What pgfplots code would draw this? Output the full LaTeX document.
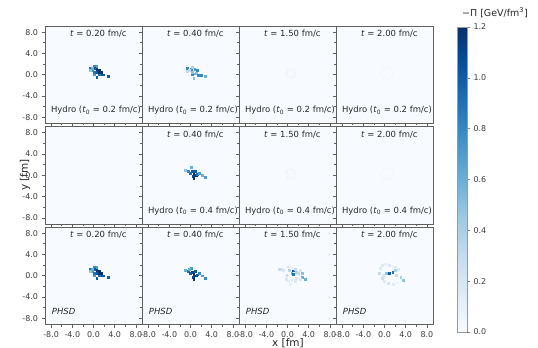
\documentclass[border=0pt]{standalone}
\usepackage{fontspec}
\setmainfont{DejaVu Sans}
\usepackage{pgfplots}
\usepackage{pgfplotstable}
\pgfplotsset{compat=1.18}

\definecolor{bg}{RGB}{247,251,255}
\definecolor{framec}{RGB}{95,95,95}
\definecolor{ticktext}{RGB}{60,60,60}

% cells: x [fm], y [fm], -Pi [GeV/fm^3]
\pgfplotstableread{
x y v
-0.6 1.2 0.9
-0.2 0.8 0.7
-0.6 0.8 0.5
0.2 1.6 0.8
0.2 1.2 1.0
0.6 1.2 1.1
0.6 0.8 1.2
1.0 0.8 1.2
1.0 0.4 1.2
1.4 0.4 1.2
1.4 0.0 1.1
1.8 0.0 1.0
0.6 0.4 1.0
0.2 0.4 0.9
0.2 0.0 0.7
0.6 -0.4 1.0
1.0 0.0 0.9
2.8 -0.2 1.0
-0.2 1.2 0.6
0.6 1.6 0.7
}\initA

\pgfplotstableread{
x y v
-0.6 1.2 0.8
-0.6 0.6 0.3
0.2 1.0 0.8
0.4 1.4 0.4
0.8 1.0 0.7
1.2 0.8 0.8
1.0 0.3 0.5
0.3 0.0 0.8
0.6 -0.6 0.5
1.5 -0.1 0.8
2.0 -0.1 0.8
2.8 -0.3 0.6
-0.2 0.8 0.3
0.8 0.2 0.6
0.4 0.4 0.5
}\hydroAb

\pgfplotstableread{
x y v
-1.0 1.0 0.5
-0.4 0.8 0.8
0.2 1.5 0.6
0.4 0.7 1.0
0.6 0.3 1.2
0.9 0.8 1.0
1.0 0.0 1.2
0.5 -0.2 1.1
1.3 0.2 0.9
1.6 0.4 0.7
2.2 0.0 0.6
2.8 -0.4 0.7
0.6 -0.6 1.2
0.0 0.4 0.9
}\hydroBb

\pgfplotstableread{
x y v
-1.0 1.0 0.6
-0.4 0.8 0.9
0.2 1.5 0.7
0.4 0.7 1.1
0.6 0.3 1.2
0.9 0.8 1.0
1.0 0.0 1.2
0.5 -0.2 1.1
1.3 0.2 1.0
1.6 0.4 0.8
2.2 0.0 0.7
2.8 -0.4 0.8
0.6 -0.6 1.2
0.0 0.4 1.0
-0.2 1.2 0.6
}\phsdB

\pgfplotstableread{
x y v
1.3 0.3 0.04
1.1 0.9 0.04
0.5 1.1 0.04
-0.1 0.9 0.04
-0.3 0.3 0.04
-0.1 -0.3 0.04
0.5 -0.5 0.04
1.1 -0.3 0.04
}\faintC

\pgfplotstableread{
x y v
1.6 0.3 0.03
1.3 1.1 0.03
0.5 1.4 0.03
-0.3 1.1 0.03
-0.6 0.3 0.03
-0.3 -0.5 0.03
0.5 -0.8 0.03
1.3 -0.5 0.03
}\faintD

\pgfplotstableread{
x y v
-1.5 1.2 0.3
-1.1 1.3 0.25
-0.8 1.1 0.2
0.0 1.7 0.15
0.35 1.1 0.35
0.8 0.45 0.6
1.1 0.95 1.0
1.4 1.2 0.3
1.0 0.3 0.9
1.7 0.6 0.4
2.0 0.45 0.3
2.4 1.1 0.2
2.7 -0.2 0.6
2.4 -0.7 0.15
3.3 -0.7 0.6
1.7 -0.5 0.2
0.8 -0.8 0.15
0.15 -1.1 0.1
-0.3 -0.7 0.2
-0.15 0.15 0.3
0.5 -1.55 0.1
1.4 -1.1 0.15
2.7 0.45 0.5
}\phsdC

\pgfplotstableread{
x y v
-0.5 2.0 0.15
0.1 2.2 0.1
0.9 2.0 0.15
2.0 1.7 0.2
-0.85 1.4 0.15
-1.0 0.45 0.3
-0.5 -0.5 0.25
-0.1 -1.1 0.15
0.7 -1.4 0.2
1.7 -1.55 0.15
2.3 -1.3 0.1
3.05 -0.2 0.4
3.55 -0.9 0.5
1.55 0.7 0.9
0.9 0.45 1.0
0.4 0.45 0.5
2.0 1.1 0.4
2.6 1.2 0.2
-0.2 0.15 0.2
2.2 0.15 0.3
}\phsdD

\pgfplotsset{
  colormap={blues}{rgb255=(247,251,255) rgb255=(222,235,247) rgb255=(198,219,239)
    rgb255=(158,202,225) rgb255=(107,174,214) rgb255=(66,146,198)
    rgb255=(33,113,181) rgb255=(8,81,156) rgb255=(8,48,107)},
  panel/.style={
    scale only axis, width=97bp, height=97.5bp, anchor=south west,
    xmin=-9.15, xmax=9.15, ymin=-9.15, ymax=9.15,
    axis background/.style={fill=bg},
    axis line style={framec, line width=0.8bp},
    xtick={-8,-4,0,4,8}, ytick={-8,-4,0,4,8},
    minor xtick={-6,-2,2,6}, minor ytick={-6,-2,2,6},
    xtick pos=left, ytick pos=left, tick align=outside,
    major tick length=3.5bp, minor tick length=2bp,
    tick style={framec, line width=0.6bp},
    xticklabels={}, yticklabels={},
    tick label style={font=\fontsize{8}{9}\selectfont, text=ticktext},
    point meta min=0, point meta max=1.2,
    colormap name=blues,
  },
  leftcol/.style={yticklabels={-8.0,-4.0,0.0,4.0,8.0}},
  bottomrow/.style={xticklabels={-8.0,-4.0,0.0,4.0,8.0}},
  cells/.style={scatter, only marks, mark=square*, mark size=0.95bp,
    scatter/use mapped color={draw=mapped color, fill=mapped color},
    point meta=\thisrow{v}},
}
\tikzset{lab/.style={font=\fontsize{8.5}{10}\selectfont, text=black!85, inner sep=0pt}}

\begin{document}
\begin{tikzpicture}
\path[use as bounding box] (0,0) rectangle (538bp,348bp);

% ---- row 1: hydro t0 = 0.2
\begin{axis}[panel, leftcol, at={(45bp,224.5bp)}]
\addplot[cells] table {\initA};
\node[lab] at (rel axis cs:0.55,0.92) {\textit{t} = 0.20 fm/c};
\node[lab, anchor=east] at (rel axis cs:0.99,0.135) {Hydro (\textit{t}\textsubscript{0} = 0.2 fm/c)};
\end{axis}
\begin{axis}[panel, at={(142bp,224.5bp)}]
\addplot[cells] table {\hydroAb};
\node[lab] at (rel axis cs:0.55,0.92) {\textit{t} = 0.40 fm/c};
\node[lab, anchor=east] at (rel axis cs:0.99,0.135) {Hydro (\textit{t}\textsubscript{0} = 0.2 fm/c)};
\end{axis}
\begin{axis}[panel, at={(239bp,224.5bp)}]
\addplot[cells] table {\faintC};
\node[lab] at (rel axis cs:0.55,0.92) {\textit{t} = 1.50 fm/c};
\node[lab, anchor=east] at (rel axis cs:0.99,0.135) {Hydro (\textit{t}\textsubscript{0} = 0.2 fm/c)};
\end{axis}
\begin{axis}[panel, at={(336bp,224.5bp)}]
\addplot[cells] table {\faintD};
\node[lab] at (rel axis cs:0.55,0.92) {\textit{t} = 2.00 fm/c};
\node[lab, anchor=east] at (rel axis cs:0.99,0.135) {Hydro (\textit{t}\textsubscript{0} = 0.2 fm/c)};
\end{axis}

% ---- row 2: hydro t0 = 0.4
\begin{axis}[panel, leftcol, at={(45bp,124bp)}]
\end{axis}
\begin{axis}[panel, at={(142bp,124bp)}]
\addplot[cells] table {\hydroBb};
\node[lab] at (rel axis cs:0.55,0.92) {\textit{t} = 0.40 fm/c};
\node[lab, anchor=east] at (rel axis cs:0.99,0.135) {Hydro (\textit{t}\textsubscript{0} = 0.4 fm/c)};
\end{axis}
\begin{axis}[panel, at={(239bp,124bp)}]
\addplot[cells] table {\faintC};
\node[lab] at (rel axis cs:0.55,0.92) {\textit{t} = 1.50 fm/c};
\node[lab, anchor=east] at (rel axis cs:0.99,0.135) {Hydro (\textit{t}\textsubscript{0} = 0.4 fm/c)};
\end{axis}
\begin{axis}[panel, at={(336bp,124bp)}]
\addplot[cells] table {\faintD};
\node[lab] at (rel axis cs:0.55,0.92) {\textit{t} = 2.00 fm/c};
\node[lab, anchor=east] at (rel axis cs:0.99,0.135) {Hydro (\textit{t}\textsubscript{0} = 0.4 fm/c)};
\end{axis}

% ---- row 3: PHSD
\begin{axis}[panel, leftcol, bottomrow, at={(45bp,23.5bp)}]
\addplot[cells] table {\initA};
\node[lab] at (rel axis cs:0.55,0.92) {\textit{t} = 0.20 fm/c};
\node[lab, anchor=west] at (rel axis cs:0.07,0.13) {\textit{PHSD}};
\end{axis}
\begin{axis}[panel, bottomrow, at={(142bp,23.5bp)}]
\addplot[cells] table {\phsdB};
\node[lab] at (rel axis cs:0.55,0.92) {\textit{t} = 0.40 fm/c};
\node[lab, anchor=west] at (rel axis cs:0.07,0.13) {\textit{PHSD}};
\end{axis}
\begin{axis}[panel, bottomrow, at={(239bp,23.5bp)}]
\addplot[cells] table {\phsdC};
\node[lab] at (rel axis cs:0.55,0.92) {\textit{t} = 1.50 fm/c};
\node[lab, anchor=west] at (rel axis cs:0.07,0.13) {\textit{PHSD}};
\end{axis}
\begin{axis}[panel, bottomrow, at={(336bp,23.5bp)}]
\addplot[cells] table {\phsdD};
\node[lab] at (rel axis cs:0.55,0.92) {\textit{t} = 2.00 fm/c};
\node[lab, anchor=west] at (rel axis cs:0.07,0.13) {\textit{PHSD}};
\end{axis}

% ---- colour bar
\begin{axis}[scale only axis, width=10bp, height=305bp, anchor=south west,
  at={(457bp,16bp)}, view={0}{90},
  xmin=0, xmax=1, ymin=0, ymax=1.2, xtick=\empty,
  ytick={0,0.2,0.4,0.6,0.8,1,1.2},
  yticklabels={0.0,0.2,0.4,0.6,0.8,1.0,1.2},
  ytick pos=right, yticklabel pos=right, tick align=outside,
  major tick length=3bp,
  axis line style={black!40, line width=0.6bp},
  tick style={black!50, line width=0.5bp},
  tick label style={font=\fontsize{8}{9}\selectfont, text=ticktext},
  colormap name=blues, point meta min=0, point meta max=1.2]
\addplot3[surf, shader=interp, point meta=y, mesh/rows=9] coordinates {
(0,0,0) (1,0,0)
(0,0.15,0) (1,0.15,0)
(0,0.3,0) (1,0.3,0)
(0,0.45,0) (1,0.45,0)
(0,0.6,0) (1,0.6,0)
(0,0.75,0) (1,0.75,0)
(0,0.9,0) (1,0.9,0)
(0,1.05,0) (1,1.05,0)
(0,1.2,0) (1,1.2,0)
};
\end{axis}

% ---- axis labels
\node[font=\fontsize{10.5}{12}\selectfont, text=black!85] at (288bp,5bp) {x [fm]};
\node[font=\fontsize{10.5}{12}\selectfont, text=black!85, rotate=90] at (25bp,173bp) {y [fm]};
\node[font=\fontsize{9.5}{11}\selectfont, text=black!85] at (495bp,335bp) {−Π [GeV/fm\textsuperscript{3}]};
\end{tikzpicture}
\end{document}
